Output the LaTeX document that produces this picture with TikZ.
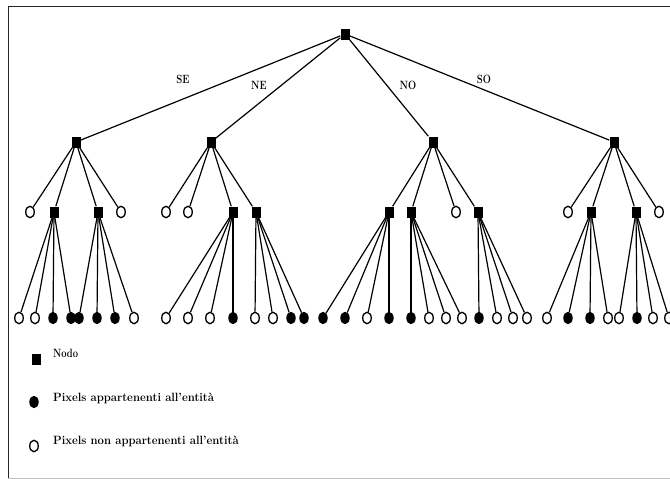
\documentclass[tikz,border=0pt]{standalone}
\usetikzlibrary{shapes.geometric}
\begin{document}
\begin{tikzpicture}[x=1pt,y=-1pt,
  nodo/.style={rectangle,fill=black,inner sep=0pt,minimum width=9pt,minimum height=11pt},
  pin/.style={ellipse,fill=black,draw=black,line width=0.8pt,inner sep=0pt,minimum width=8.5pt,minimum height=11.5pt},
  pout/.style={ellipse,fill=white,draw=black,line width=1.3pt,inner sep=0pt,minimum width=8.5pt,minimum height=11.5pt},
  ramo/.style={line width=1.2pt},
  etich/.style={font=\fontsize{12}{14}\selectfont\bfseries,inner sep=0pt},
  legtxt/.style={font=\fontsize{12}{14}\selectfont\bfseries,inner sep=0pt,anchor=west}]
\useasboundingbox (0,0) rectangle (670,479);
% frame
\draw[line width=1.5pt,black!85] (8.5,479) -- (8.5,6.5) -- (672,6.5);
\draw[line width=1pt,black!25] (8,478) -- (672,478);
% root and level 1
\node[nodo] (r) at (345,34) {};
\node[nodo] (A) at (76,142) {};
\node[nodo] (B) at (211,142) {};
\node[nodo] (C) at (433,142) {};
\node[nodo] (D) at (614,142) {};
% level 2
\node[pout] (a1) at (30,212) {};
\node[nodo] (a2) at (54,212) {};
\node[nodo] (a3) at (98,212) {};
\node[pout] (a4) at (121,212) {};
\node[pout] (b1) at (166,212) {};
\node[pout] (b2) at (188,212) {};
\node[nodo] (b3) at (233,212) {};
\node[nodo] (b4) at (256,212) {};
\node[nodo] (c1) at (389,212) {};
\node[nodo] (c2) at (411,212) {};
\node[pout] (c3) at (456,212) {};
\node[nodo] (c4) at (478,212) {};
\node[pout] (d1) at (568,212) {};
\node[nodo] (d2) at (591,212) {};
\node[nodo] (d3) at (636,212) {};
\node[pout] (d4) at (659,212) {};
% leaves
\foreach \n/\x/\s in {a21/19/pout,a22/35/pout,a23/53/pin,a24/71/pin,
  a31/79/pin,a32/97/pin,a33/115/pin,a34/134/pout,
  b31/166/pout,b32/188/pout,b33/210/pout,b34/233/pin,
  b41/255/pout,b42/273/pout,b43/291/pin,b44/304/pin,
  c11/323/pin,c12/345/pin,c13/367/pout,c14/389/pin,
  c21/411/pin,c22/429/pout,c23/446/pout,c24/462/pout,
  c41/479/pin,c42/497/pout,c43/513/pout,c44/527/pout,
  d21/547/pout,d22/568/pin,d23/590/pin,d24/608/pout,
  d31/619/pout,d32/637/pin,d33/653/pout,d34/669/pout}
  {\node[\s] (\n) at (\x,318) {};}
% edges
\foreach \c in {A,B,C,D} {\draw[ramo] (r) -- (\c);}
\foreach \c in {a1,a2,a3,a4} {\draw[ramo] (A) -- (\c);}
\foreach \c in {b1,b2,b3,b4} {\draw[ramo] (B) -- (\c);}
\foreach \c in {c1,c2,c3,c4} {\draw[ramo] (C) -- (\c);}
\foreach \c in {d1,d2,d3,d4} {\draw[ramo] (D) -- (\c);}
\foreach \p in {a2,a3,b3,b4,c1,c2,c4,d2,d3}
  {\foreach \i in {1,2,3,4} {\draw[ramo] (\p) -- (\p\i);}}
% edge labels
\node[etich] (lse) at (183,79) {\scalebox{0.8}[1]{SE}};
\node[etich] (lne) at (259,85) {\scalebox{0.8}[1]{NE}};
\node[etich] (lno) at (408,85) {\scalebox{0.8}[1]{NO}};
\node[etich] (lso) at (484,79) {\scalebox{0.8}[1]{SO}};
% legend
\node[nodo] (k1) at (36,359) {};
\node[pin] (k2) at (34,402) {};
\node[pout] (k3) at (34,446) {};
\node[legtxt] (t1) at (53,353) {\scalebox{0.78}[1]{Nodo}};
\node[legtxt] (t2) at (53,398) {\scalebox{0.94}[1]{Pixels appartenenti all'entità}};
\node[legtxt] (t3) at (53,441) {\scalebox{0.94}[1]{Pixels non appartenenti all'entità}};
\end{tikzpicture}
\end{document}
